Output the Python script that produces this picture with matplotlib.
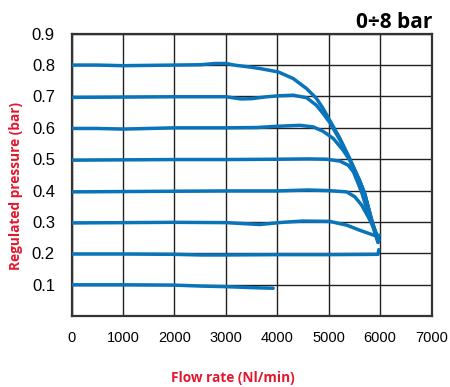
import numpy as np
import matplotlib.pyplot as plt

# flow rate (Nl/min) / regulated pressure (bar)
flow_08 = [0, 500, 1000, 1500, 2000, 2500, 2800, 3000, 3200, 3450, 3660, 4020, 4310, 4570, 4760,
           4890, 5020, 5220, 5410, 5600, 5700, 5830, 5960]
pres_08 = [0.800, 0.800, 0.798, 0.799, 0.800, 0.801, 0.805, 0.805, 0.799, 0.794, 0.789, 0.778, 0.757,
           0.725, 0.694, 0.662, 0.624, 0.566, 0.502, 0.432, 0.39, 0.31, 0.235]

flow_07 = [0, 1000, 2000, 3000, 3300, 3500, 3800, 4020, 4310, 4570, 4760, 4890, 5020, 5220, 5410,
           5600, 5700, 5830, 5950]
pres_07 = [0.697, 0.698, 0.699, 0.699, 0.692, 0.693, 0.699, 0.702, 0.704, 0.696, 0.672, 0.646, 0.617,
           0.561, 0.498, 0.432, 0.39, 0.31, 0.245]

flow_06 = [0, 500, 1000, 1500, 2000, 3000, 3600, 4000, 4440, 4700, 4890, 5090, 5280, 5410, 5600,
           5700, 5830, 5950]
pres_06 = [0.598, 0.598, 0.596, 0.598, 0.600, 0.600, 0.601, 0.605, 0.608, 0.603, 0.589, 0.566, 0.529,
           0.497, 0.43, 0.39, 0.305, 0.25]

flow_05 = [0, 1000, 2000, 3000, 4000, 4600, 4960, 5220, 5380, 5480, 5580, 5650, 5760, 5850, 5960]
pres_05 = [0.497, 0.498, 0.499, 0.499, 0.500, 0.501, 0.500, 0.494, 0.481, 0.460, 0.42, 0.39, 0.33,
           0.29, 0.235]

flow_04 = [0, 1000, 2000, 3000, 4000, 4600, 5000, 5350, 5510, 5640, 5770, 5900, 5980]
pres_04 = [0.396, 0.397, 0.398, 0.399, 0.399, 0.402, 0.400, 0.396, 0.380, 0.354, 0.316, 0.274, 0.242]

flow_03 = [0, 1000, 2000, 3000, 3660, 4100, 4500, 5020, 5350, 5600, 5930, 5990]
pres_03 = [0.297, 0.298, 0.299, 0.298, 0.292, 0.299, 0.303, 0.302, 0.290, 0.274, 0.255, 0.258]

flow_02 = [0, 1000, 2000, 2500, 3000, 4000, 5000, 5960, 5975]
pres_02 = [0.198, 0.198, 0.197, 0.195, 0.195, 0.196, 0.196, 0.197, 0.212]

flow_01 = [0, 1000, 2000, 2500, 3000, 3500, 3920]
pres_01 = [0.100, 0.100, 0.099, 0.096, 0.094, 0.091, 0.089]

curves = [(flow_08, pres_08), (flow_07, pres_07), (flow_06, pres_06), (flow_05, pres_05),
          (flow_04, pres_04), (flow_03, pres_03), (flow_02, pres_02), (flow_01, pres_01)]

x_ticks = [0, 1000, 2000, 3000, 4000, 5000, 6000, 7000]
y_ticks = [0.1, 0.2, 0.3, 0.4, 0.5, 0.6, 0.7, 0.8, 0.9]

blue = '#0a74bb'
red = '#e3172d'

fig = plt.figure(figsize=(4.5, 3.87), dpi=100)
ax = fig.add_axes([0.159, 0.183, 0.800, 0.730])

for fx, py in curves:
    ax.plot(fx, py, color=blue, lw=2.5, solid_capstyle='round', solid_joinstyle='round', zorder=3)

ax.set_xlim(0, 7000)
ax.set_ylim(0, 0.9)
ax.set_xticks(x_ticks)
ax.set_yticks(y_ticks)
ax.set_xticklabels([str(v) for v in x_ticks], family='Liberation Sans', fontsize=10.5)
ax.set_yticklabels(['%.1f' % v for v in y_ticks], family='Liberation Sans', fontsize=12)
ax.tick_params(length=0)
ax.tick_params(axis='y', pad=12)
ax.tick_params(axis='x', pad=11)
ax.grid(True, color='#222222', lw=1.0, zorder=1)
for s in ax.spines.values():
    s.set_linewidth(1.6)
    s.set_color('#333333')

fig.text(0.96, 0.942, '0÷8 bar', ha='right', va='center', fontsize=15,
         fontweight='bold', family='Open Sans')
fig.text(0.518, 0.023, 'Flow rate (Nl/min)', ha='center', va='center', fontsize=9.8,
         fontweight='bold', color=red, family='Open Sans')
fig.text(0.036, 0.52, 'Regulated pressure (bar)', ha='center', va='center', rotation=90,
         fontsize=9.8, fontweight='bold', color=red, family='Open Sans')

fig.savefig('out.png', dpi=100)
